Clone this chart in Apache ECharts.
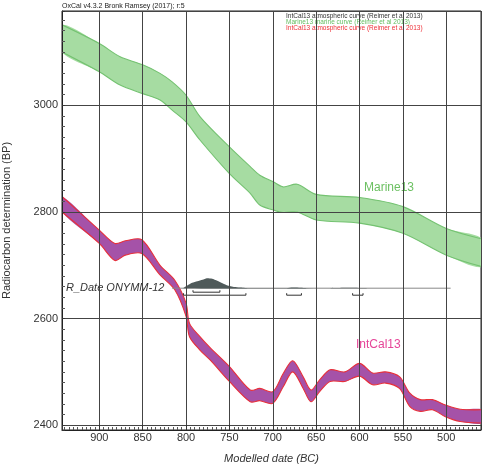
<!DOCTYPE html>
<html>
<head>
<meta charset="utf-8">
<script src="https://cdn.jsdelivr.net/npm/echarts@6/dist/echarts.min.js"></script>
<style>
html, body { margin: 0; padding: 0; background: #fff; }
#chart { width: 484px; height: 464px; }
</style>
</head>
<body>
<div id="chart"></div>
<script>
// Marine13 band (cal BC, upper / lower BP)
var marineYears = [943, 900, 876, 850, 830, 816, 800, 784, 750, 726, 715, 700, 688, 672, 650, 600, 550, 500, 458];
var marineUpper = [3151, 3116, 3091, 3076, 3060, 3044, 3019, 2979, 2922, 2885, 2869, 2857, 2847, 2852, 2833, 2827, 2810, 2769, 2749];
var marineLower = [3100, 3063, 3038, 3022, 3010, 2991, 2969, 2935, 2872, 2835, 2813, 2804, 2799, 2800, 2785, 2779, 2760, 2719, 2697];

// IntCal13 band
var intcalYears = [943, 900, 882, 870, 851, 830, 813, 800, 796, 784, 772, 750, 726, 715, 700, 688, 677, 665, 656, 646, 634, 617, 600, 585, 570, 554, 542, 530, 516, 501, 484, 458];
var intcalUpper = [2829, 2766, 2741, 2746, 2748, 2700, 2672, 2629, 2591, 2566, 2545, 2510, 2466, 2469, 2463, 2497, 2521, 2491, 2466, 2485, 2504, 2500, 2516, 2498, 2500, 2491, 2460, 2448, 2448, 2438, 2430, 2429];
var intcalLower = [2800, 2741, 2709, 2719, 2722, 2682, 2654, 2604, 2566, 2541, 2522, 2482, 2444, 2446, 2441, 2472, 2500, 2469, 2444, 2463, 2482, 2482, 2492, 2476, 2479, 2469, 2435, 2426, 2429, 2416, 2407, 2404];

// R_Date ONYMM-12
var rDateBP = 2657;
var rDateStart = 816, rDateEnd = 495;
var probYears = [803, 799, 793, 787, 781, 776, 770, 764, 758, 753, 744, 732, 726, 684, 677, 668, 661, 634, 617, 605, 597, 590];
var probValues = [0, 0.25, 0.55, 0.7, 0.85, 1, 0.95, 0.75, 0.5, 0.3, 0.12, 0.03, 0, 0, 0.06, 0.04, 0, 0, 0.04, 0.05, 0.02, 0];
var range68 = [[792, 761]];
var range95 = [[803, 731], [684, 667], [608, 596]];

var legendLines = [
    'IntCal13 atmospheric curve (Reimer et al 2013)',
    'Marine13 marine curve (Reimer et al 2013)',
    'IntCal13 atmospheric curve (Reimer et al 2013)'
];
var legendColors = ['#333333', '#62bd5f', '#ee2e36'];

var FONT = "'Liberation Sans', Arial, sans-serif";

var chart = echarts.init(document.getElementById('chart'));

//画一条带子
function bandRender(years, upper, lower, fill, stroke) {
    return function (params, api) {
        if (params.dataIndex !== 0) return null;
        var top = [], bot = [];
        for (var i = 0; i < years.length; i++) {
            top.push(api.coord([years[i], upper[i]]));
            bot.push(api.coord([years[i], lower[i]]));
        }
        var poly = top.concat(bot.slice().reverse());
        return {
            type: 'group',
            children: [
                { type: 'polygon', shape: { points: poly, smooth: 0.3 }, style: { fill: fill } },
                { type: 'polyline', shape: { points: top, smooth: 0.3 }, style: { stroke: stroke, lineWidth: 1.1, fill: null } },
                { type: 'polyline', shape: { points: bot, smooth: 0.3 }, style: { stroke: stroke, lineWidth: 1.1, fill: null } }
            ]
        };
    };
}

//概率分布 + 区间
function rDateRender(params, api) {
    if (params.dataIndex !== 0) return null;
    var base = api.coord([rDateStart, rDateBP]);
    var baseY = base[1];
    var children = [];
    children.push({
        type: 'line',
        shape: { x1: base[0], y1: baseY, x2: api.coord([rDateEnd, rDateBP])[0], y2: baseY },
        style: { stroke: '#888', lineWidth: 1 }
    });
    var pts = [];
    for (var i = 0; i < probYears.length; i++) {
        var p = api.coord([probYears[i], rDateBP]);
        pts.push([p[0], baseY - probValues[i] * 10]);
    }
    children.push({ type: 'polygon', shape: { points: pts, smooth: 0.2 }, style: { fill: '#4f5a5a' } });
    function bracket(r, off) {
        var xa = api.coord([r[0], rDateBP])[0];
        var xb = api.coord([r[1], rDateBP])[0];
        var y = baseY + off;
        children.push({
            type: 'polyline',
            shape: { points: [[xa, y - 2], [xa, y], [xb, y], [xb, y - 2]] },
            style: { stroke: '#333', lineWidth: 1, fill: null }
        });
    }
    range68.forEach(function (r) { bracket(r, 4); });
    range95.forEach(function (r) { bracket(r, 7); });
    return { type: 'group', children: children };
}

var graphics = [{
    type: 'text', left: 62, top: 3,
    style: { text: 'OxCal v4.3.2 Bronk Ramsey (2017); r:5', font: '7px ' + FONT, fill: '#222' }
}];
for (var i = 0; i < legendLines.length; i++) {
    graphics.push({
        type: 'text', left: 286, top: 13 + i * 6,
        style: { text: legendLines[i], font: '6.5px ' + FONT, fill: legendColors[i] }
    });
}
graphics.push({ type: 'text', left: 364, top: 182, style: { text: 'Marine13', font: '12px ' + FONT, fill: '#6cc062' } });
graphics.push({ type: 'text', left: 356, top: 339, style: { text: 'IntCal13', font: '12px ' + FONT, fill: '#e64598' } });
graphics.push({ type: 'text', left: 66, top: 282, style: { text: 'R_Date ONYMM-12', font: 'italic 11px ' + FONT, fill: '#333' } });

var option = {
    animation: false,
    textStyle: { fontFamily: FONT },
    grid: { left: 62, right: 3, top: 11, bottom: 34, show: true, borderColor: '#222', borderWidth: 1, outerBoundsMode: 'none' },
    xAxis: {
        type: 'value', min: 460, max: 943, inverse: true, splitNumber: 10, z: 3,
        name: 'Modelled date (BC)', nameLocation: 'middle', nameGap: 23, nameMoveOverlap: false,
        nameTextStyle: { fontStyle: 'italic', fontSize: 11, color: '#333' },
        axisLine: { show: true, lineStyle: { color: '#222' } },
        axisTick: { show: true, inside: true, length: 5, lineStyle: { color: '#333' } },
        minorTick: { show: true, splitNumber: 10, length: 3, lineStyle: { color: '#555' } },
        axisLabel: { showMinLabel: false, showMaxLabel: false, margin: 2, fontSize: 11, color: '#333',
            formatter: function (v) { return String(v); } },
        splitLine: { show: true, lineStyle: { color: '#444', width: 1 } }
    },
    yAxis: {
        type: 'value', min: 2391, max: 3177, splitNumber: 4, z: 3,
        name: 'Radiocarbon determination (BP)', nameLocation: 'middle', nameGap: 50, nameMoveOverlap: false,
        nameTextStyle: { fontSize: 11, color: '#333' },
        axisLine: { show: true, lineStyle: { color: '#222' } },
        axisTick: { show: true, inside: true, length: 3, lineStyle: { color: '#333' } },
        minorTick: { show: true, splitNumber: 10, length: 3, lineStyle: { color: '#555' } },
        axisLabel: { showMinLabel: false, showMaxLabel: false, margin: 4, fontSize: 11, color: '#333',
            formatter: function (v) { return String(v); } },
        splitLine: { show: true, lineStyle: { color: '#444', width: 1 } }
    },
    graphic: graphics,
    series: [
        {
            name: 'Marine13', type: 'custom', clip: true,
            renderItem: bandRender(marineYears, marineUpper, marineLower, '#a6dca2', '#74c271'),
            data: marineYears.map(function (y, i) { return [y, marineUpper[i]]; })
        },
        {
            name: 'IntCal13', type: 'custom', clip: true,
            renderItem: bandRender(intcalYears, intcalUpper, intcalLower, '#a552a8', '#e8303a'),
            data: intcalYears.map(function (y, i) { return [y, intcalUpper[i]]; })
        },
        {
            name: 'R_Date', type: 'custom', clip: true,
            renderItem: rDateRender,
            data: [[rDateStart, rDateBP]]
        }
    ]
};
chart.setOption(option);
</script>
</body>
</html>
